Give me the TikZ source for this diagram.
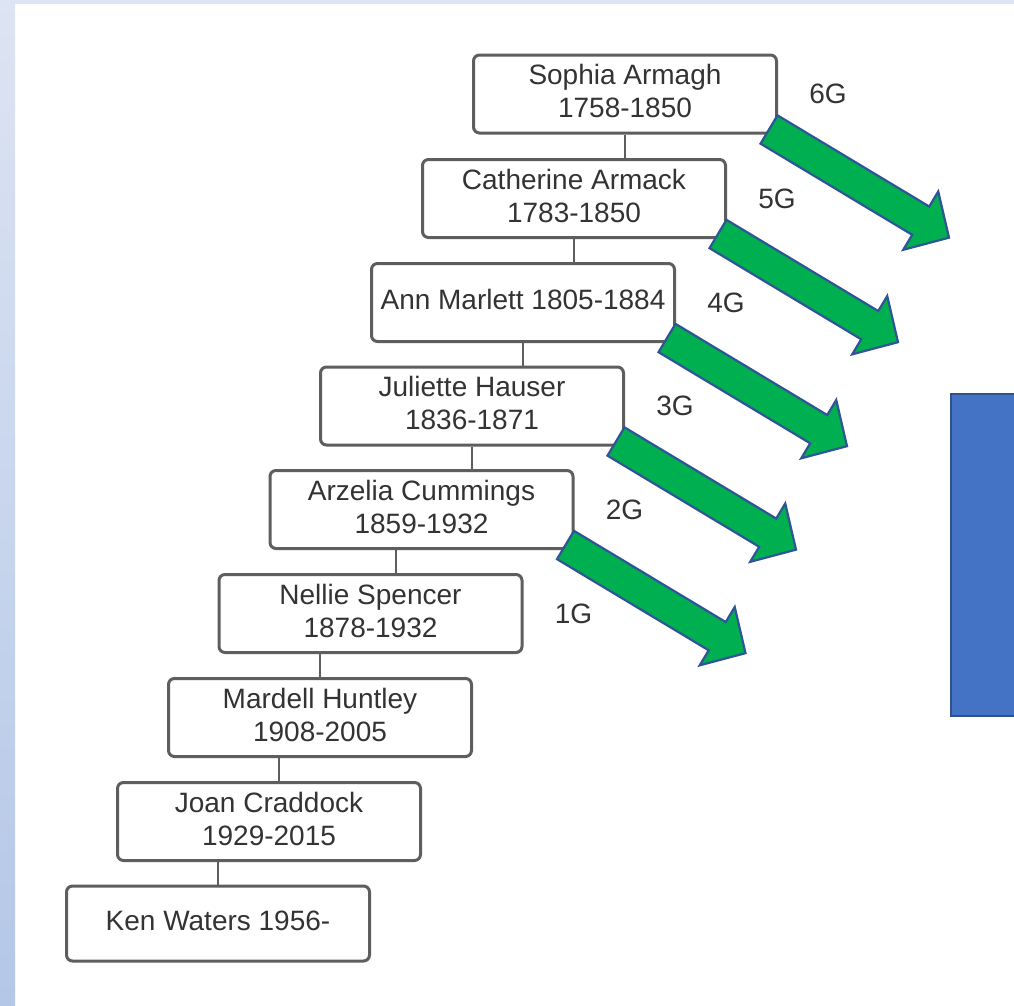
\documentclass[tikz,border=0pt]{standalone}
\usepackage{fontspec}
\setmainfont{Liberation Sans}
\usetikzlibrary{calc}
\definecolor{boxline}{HTML}{5E5E5E}
\definecolor{txt}{HTML}{333333}
\definecolor{agreen}{HTML}{00B050}
\definecolor{aline}{HTML}{2F5597}
\definecolor{bblue}{HTML}{4472C4}
\definecolor{bline}{HTML}{2F528F}
\definecolor{bgtop}{HTML}{DDE4F3}
\definecolor{bgbot}{HTML}{B4C7E7}
\newcommand\greenarrow[1]{%
  \begin{scope}[shift={($(#1.south east)+(-9,5)$)}, rotate=-31]
    \draw[bigarrow] (0,16.5) -- (177,16.5) -- (177,34) -- (210,0) -- (177,-34) -- (177,-16.5) -- (0,-16.5) -- cycle;
  \end{scope}}
\begin{document}
\begin{tikzpicture}[x=1pt,y=1pt,
  person/.style={draw=boxline, line width=3pt, rounded corners=6pt, fill=white,
    minimum width=303pt, minimum height=78pt, inner sep=0pt, align=center,
    text depth=6pt, text=txt, font=\fontsize{28}{33}\selectfont},
  gen/.style={text=txt, font=\fontsize{28}{33}\selectfont, inner sep=0pt},
  link/.style={draw=boxline, line width=2.5pt},
  bigarrow/.style={fill=agreen, draw=aline, line width=2.2pt, line join=miter}]
\useasboundingbox (0,0) rectangle (1014,-1005);
\fill[white] (0,0) rectangle (1014,-1005);
\shade[top color=bgtop, bottom color=bgbot] (0,0) rectangle (15,-1005);
\fill[bgtop] (0,0) rectangle (1014,-4);

\node[person] (s1) at (625,-94) {Sophia Armagh\\1758-1850};
\node[person] (s2) at (574,-198.5) {Catherine Armack\\1783-1850};
\node[person] (s3) at (523,-302.5) {Ann Marlett 1805-1884};
\node[person] (s4) at (472,-406) {Juliette Hauser\\1836-1871};
\node[person] (s5) at (421.5,-509.5) {Arzelia Cummings\\1859-1932};
\node[person] (s6) at (370.5,-613.5) {Nellie Spencer\\1878-1932};
\node[person] (s7) at (320,-717.5) {Mardell Huntley\\1908-2005};
\node[person] (s8) at (269,-821.5) {Joan Craddock\\1929-2015};
\node[person, minimum height=75pt] (s9) at (218,-923.5) {Ken Waters 1956-};

\coordinate (c56) at (396,0);
\coordinate (c78) at (279,0);
\draw[link] (s1.south) -- (s1.south |- s2.north);
\draw[link] (s2.south) -- (s2.south |- s3.north);
\draw[link] (s3.south) -- (s3.south |- s4.north);
\draw[link] (s4.south) -- (s4.south |- s5.north);
\draw[link] (s5.south -| c56) -- (s6.north -| c56);
\draw[link] (s7.north |- s6.south) -- (s7.north);
\draw[link] (s7.south -| c78) -- (s8.north -| c78);
\draw[link] (s9.north |- s8.south) -- (s9.north);

\node[gen] (g6) at ($(s1.east)+(50,0)$) {6G};
\node[gen] (g5) at ($(s2.east)+(50,0)$) {5G};
\node[gen] (g4) at ($(s3.east)+(50,0)$) {4G};
\node[gen] (g3) at ($(s4.east)+(50,0)$) {3G};
\node[gen] (g2) at ($(s5.east)+(50,0)$) {2G};
\node[gen] (g1) at ($(s6.east)+(50,0)$) {1G};

\greenarrow{s1}
\greenarrow{s2}
\greenarrow{s3}
\greenarrow{s4}
\greenarrow{s5}

\draw[fill=bblue, draw=bline, line width=2pt] (951,-394) rectangle (1016,-716);
\end{tikzpicture}
\end{document}
